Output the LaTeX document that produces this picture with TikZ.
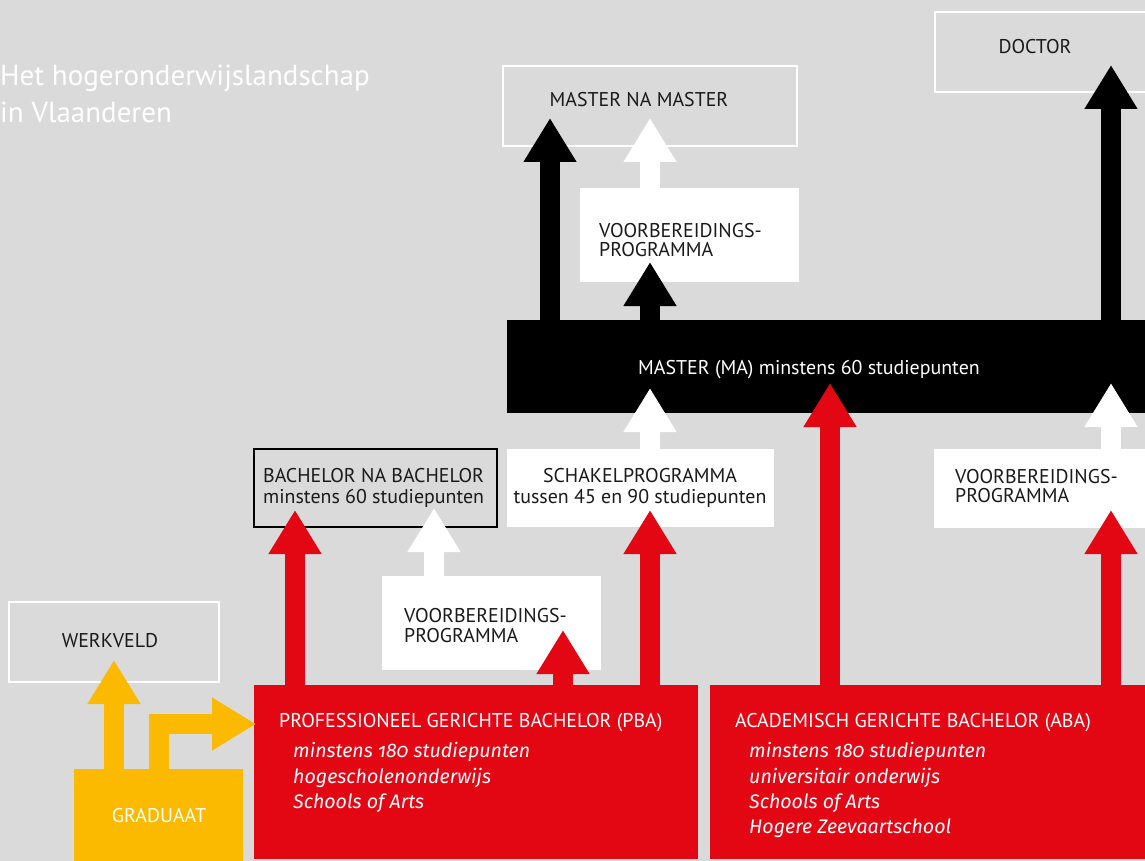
\documentclass[tikz,border=0pt]{standalone}
\usepackage{fontspec}
\setmainfont{PT Sans}
\newfontfamily\itfont[Numbers=OldStyle]{Fira Sans}
\usetikzlibrary{arrows.meta,calc}
\definecolor{bg}{HTML}{DADADA}
\definecolor{rood}{HTML}{E30613}
\definecolor{geel}{HTML}{FBBA00}
\definecolor{ink}{HTML}{1A1A1A}
\tikzset{
  box/.style={rectangle, inner sep=0pt, outer sep=0pt, anchor=north west},
  lbl/.style={font=\fontsize{19.9}{20}\selectfont, text=ink, inner sep=0pt},
  wlbl/.style={font=\fontsize{19.9}{20}\selectfont, text=white, inner sep=0pt},
  itl/.style={font=\itfont\itshape\fontsize{19.6}{20}\selectfont, text=white, inner sep=0pt, anchor=base west},
  bigarrow/.style={line width=20pt, line join=miter, -{Triangle[width=50pt,length=44pt]}},
}
\begin{document}
\begin{tikzpicture}[x=1pt,y=-1pt]
\fill[bg] (0,0) rectangle (1145,861);
\useasboundingbox (0,0) rectangle (1145,861);

% title
\node[anchor=base west, inner sep=0pt, text=white, font=\fontsize{29}{29}\selectfont] (t1) at (0,86) {Het hogeronderwijslandschap};
\node[anchor=base west, inner sep=0pt, text=white, font=\fontsize{29}{29}\selectfont] (t2) at (0,123) {in Vlaanderen};

% boxes
\node[box, minimum width=210pt, minimum height=80pt, draw=white, line width=2.5pt] (werkveld) at (9,602) {};
\node[box, minimum width=169pt, minimum height=92pt, fill=geel] (grad) at (74,769) {};
\node[box, minimum width=444pt, minimum height=174pt, fill=rood] (pba) at (254,685) {};
\node[box, minimum width=437pt, minimum height=174pt, fill=rood] (aba) at (710,685) {};
\node[box, minimum width=243pt, minimum height=78pt, draw=black, line width=2.5pt] (bnb) at (254,449) {};
\node[box, minimum width=219pt, minimum height=94pt, fill=white] (vp1) at (382,576) {};
\node[box, minimum width=267pt, minimum height=78pt, fill=white] (schakel) at (507,449) {};
\node[box, minimum width=213pt, minimum height=79pt, fill=white] (vp3) at (934,449) {};
\node[box, minimum width=640pt, minimum height=93pt, fill=black] (ma) at (507,320) {};
\node[box, minimum width=219pt, minimum height=94pt, fill=white] (vp2) at (580,188) {};
\node[box, minimum width=294pt, minimum height=80pt, draw=white, line width=2.5pt] (mnm) at (503,66) {};
\node[box, minimum width=214pt, minimum height=80pt, draw=white, line width=2.5pt] (doctor) at (935,12) {};

% arrow columns
\coordinate (x114) at (114,0);
\coordinate (x159) at (159,0);
\coordinate (x295) at (295,0);
\coordinate (x434) at (434,0);
\coordinate (x550) at (550,0);
\coordinate (x563) at (563,0);
\coordinate (x650) at (650,0);
\coordinate (x830) at (830,0);
\coordinate (x1111) at (1111,0);
\coordinate (gtip) at ($(pba.north west)+(2,39)$);

% yellow
\draw[bigarrow, geel] (grad.north -| x114) -- ($(werkveld.south -| x114)+(0,-22)$);
\draw[bigarrow, geel] (grad.north -| x159) |- (gtip);
% red
\draw[bigarrow, rood] (pba.north -| x295) -- ($(bnb.south -| x295)+(0,-17)$);
\draw[bigarrow, rood] (pba.north -| x563) -- ($(vp1.south -| x563)+(0,-40)$);
\draw[bigarrow, rood] (pba.north -| x650) -- ($(schakel.south -| x650)+(0,-17)$);
\draw[bigarrow, rood] (aba.north -| x830) -- ($(ma.south -| x830)+(0,-30)$);
\draw[bigarrow, rood] (aba.north -| x1111) -- ($(vp3.south -| x1111)+(0,-18)$);
% white
\draw[bigarrow, white] (vp1.north -| x434) -- ($(bnb.south -| x434)+(0,-19)$);
\draw[bigarrow, white] (schakel.north -| x650) -- ($(ma.south -| x650)+(0,-25)$);
\draw[bigarrow, white] (vp3.north -| x1111) -- ($(ma.south -| x1111)+(0,-30)$);
\draw[bigarrow, white] (vp2.north -| x650) -- ($(mnm.south -| x650)+(0,-28)$);
% black
\draw[bigarrow, black] (ma.north -| x550) -- ($(mnm.south -| x550)+(0,-28)$);
\draw[bigarrow, black] (ma.north -| x650) -- ($(vp2.south -| x650)+(0,-20)$);
\draw[bigarrow, black] (ma.north -| x1111) -- ($(doctor.south -| x1111)+(0,-27)$);

% texts
\node[lbl, anchor=base] (twerk) at (110,647) {WERKVELD};
\node[wlbl, anchor=base] (tgrad) at (159,822) {GRADUAAT};
\node[wlbl, anchor=base west] (tpba) at (279,727) {PROFESSIONEEL GERICHTE BACHELOR (PBA)};
\node[itl] (tpba1) at (293,757) {minstens 180 studiepunten};
\node[itl] (tpba2) at (293,783) {hogescholenonderwijs};
\node[itl] (tpba3) at (293,808) {Schools of Arts};
\node[wlbl, anchor=base west] (taba) at (735,727) {ACADEMISCH GERICHTE BACHELOR (ABA)};
\node[itl] (taba1) at (749,757) {minstens 180 studiepunten};
\node[itl] (taba2) at (749,783) {universitair onderwijs};
\node[itl] (taba3) at (749,808) {Schools of Arts};
\node[itl] (taba4) at (749,833) {Hogere Zeevaartschool};
\node[lbl, anchor=base west] (tbnb1) at (263,482) {BACHELOR NA BACHELOR};
\node[lbl, anchor=base west] (tbnb2) at (263,503) {minstens 60 studiepunten};
\node[lbl, anchor=base west] (tvp1a) at (404,622) {VOORBEREIDINGS-};
\node[lbl, anchor=base west] (tvp1b) at (404,642) {PROGRAMMA};
\node[lbl, anchor=base] (tsch1) at (640,482) {SCHAKELPROGRAMMA};
\node[lbl, anchor=base] (tsch2) at (640,503) {tussen 45 en 90 studiepunten};
\node[wlbl, anchor=base west] (tma) at (638,374) {MASTER (MA) minstens 60 studiepunten};
\node[lbl, anchor=base west] (tvp2a) at (599,237) {VOORBEREIDINGS-};
\node[lbl, anchor=base west] (tvp2b) at (599,256) {PROGRAMMA};
\node[lbl, anchor=base] (tmnm) at (639,107) {MASTER NA MASTER};
\node[lbl, anchor=base] (tdoc) at (1035,54) {DOCTOR};
\node[lbl, anchor=base west] (tvp3a) at (955,483) {VOORBEREIDINGS-};
\node[lbl, anchor=base west] (tvp3b) at (955,502) {PROGRAMMA};
\end{tikzpicture}
\end{document}
